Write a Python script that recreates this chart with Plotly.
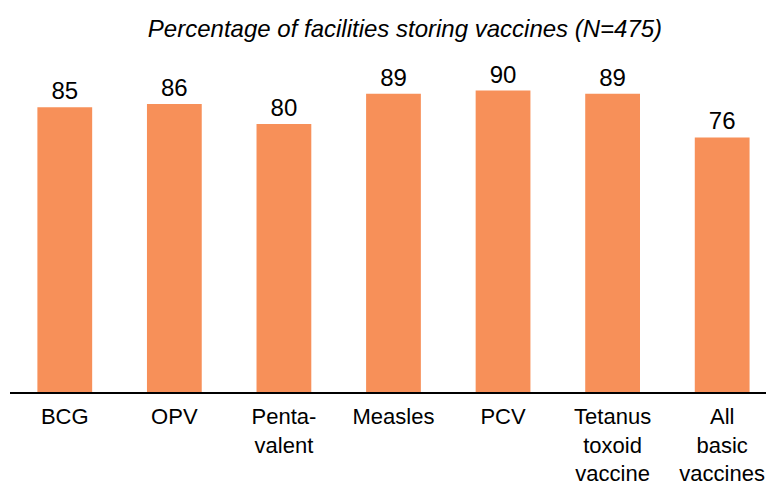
import plotly.graph_objects as go

categories = ["BCG", "OPV", "Penta-<br>valent", "Measles", "PCV",
              "Tetanus<br>toxoid<br>vaccine", "All<br>basic<br>vaccines"]
values = [85, 86, 80, 89, 90, 89, 76]

fig = go.Figure()
fig.add_trace(go.Bar(
    x=categories, y=values, width=0.5,
    marker=dict(color="#F79059", line=dict(width=0)),
    text=[str(v) for v in values], textposition="outside",
    textfont=dict(size=24, color="black"),
    cliponaxis=False,
))

fig.update_layout(
    width=766, height=487,
    margin=dict(l=10, r=0, t=57, b=95),
    paper_bgcolor="white", plot_bgcolor="white",
    font=dict(family="Liberation Sans, Arial, sans-serif", size=24, color="black"),
    title=dict(text="<i>Percentage of facilities storing vaccines (N=475)</i>",
               x=405 / 766, xanchor="center", y=1 - 29 / 487, yanchor="middle",
               font=dict(size=24, color="black")),
    showlegend=False,
    bargap=0.5,
)
fig.update_xaxes(range=[-0.5, 6.4], showline=True, linecolor="black", linewidth=1.5,
                 ticks="", showgrid=False, tickfont=dict(size=22), automargin=False,
                 ticklabelstandoff=4)
fig.update_yaxes(range=[0, 100], visible=False)

fig.write_html("out.html", config={"displayModeBar": False},
               post_script="document.body.style.margin='0';")
